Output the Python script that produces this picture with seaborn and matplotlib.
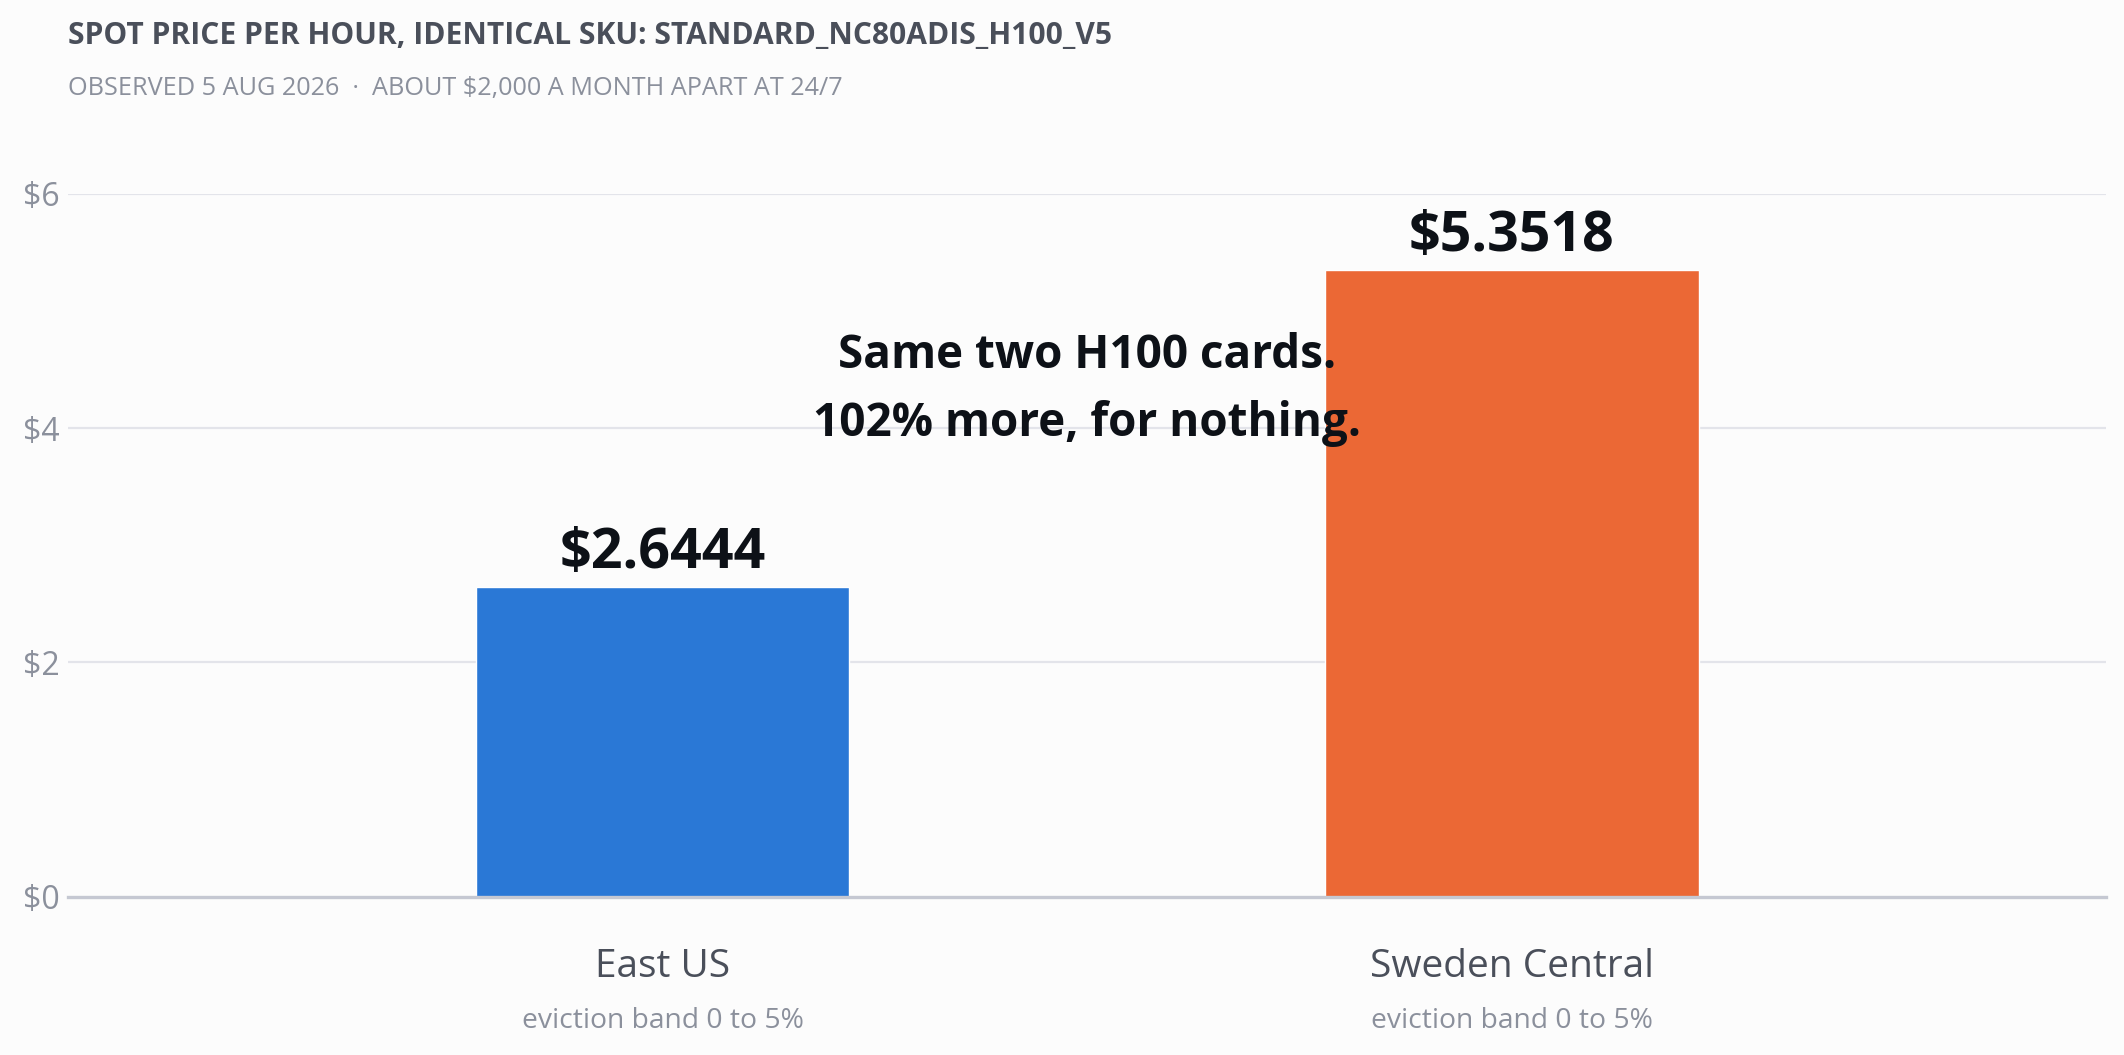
import pandas as pd
import seaborn as sns
import matplotlib.pyplot as plt
from matplotlib.transforms import blended_transform_factory

regions = ["East US", "Sweden Central"]
prices = [2.6444, 5.3518]
bands = ["eviction band 0 to 5%", "eviction band 0 to 5%"]
bar_colors = ["#2a78d6", "#eb6835"]
yticks = [0, 2, 4, 6]

title = "SPOT PRICE PER HOUR, IDENTICAL SKU: STANDARD_NC80ADIS_H100_V5"
subtitle = "OBSERVED 5 AUG 2026  \u00b7  ABOUT $2,000 A MONTH APART AT 24/7"
note = ["Same two H100 cards.", "102% more, for nothing."]

BG = "#fcfcfc"
INK = "#0d1117"
DARK = "#4a4f5a"
MUTE = "#8b909c"

df = pd.DataFrame({"region": regions, "price": prices})

sns.set_theme(style="white")
plt.rcParams["font.family"] = ["Open Sans", "DejaVu Sans"]

fig = plt.figure(figsize=(21.24, 10.55), dpi=100, facecolor=BG)
ax = fig.add_axes([0.032, 0.150, 0.9597, 0.6664])
ax.set_facecolor(BG)

sns.barplot(data=df, x="region", y="price", hue="region", palette=bar_colors,
            width=0.44, saturation=1, legend=False, ax=ax, zorder=3)

ax.set_ylim(0, 6)
ax.set_xlim(-0.70, 1.70)
ax.set_yticks(yticks)
ax.set_yticklabels([f"${v}" for v in yticks], fontsize=23, color=MUTE)
ax.tick_params(axis="y", length=0, pad=6)
ax.tick_params(axis="x", length=0)
ax.set_xticks(range(len(regions)))
ax.set_xticklabels([""] * len(regions))
ax.set_xlabel("")
ax.set_ylabel("")
for v in yticks[1:]:
    ax.axhline(v, color="#e3e4ea", lw=1.6, zorder=1)
for s in ["top", "right", "left"]:
    ax.spines[s].set_visible(False)
ax.spines["bottom"].set_color("#c5c8d2")
ax.spines["bottom"].set_linewidth(2.4)
ax.spines["bottom"].set_zorder(4)

# value labels on bars
for i, p in enumerate(prices):
    ax.annotate(f"${p:.4f}", xy=(i, p), xytext=(0, 19), textcoords="offset pixels",
                ha="center", va="baseline", fontsize=40, fontweight="bold", color=INK)

# region names and sub-labels under the axis
tr = blended_transform_factory(ax.transData, ax.transAxes)
for i, (r, b) in enumerate(zip(regions, bands)):
    ax.annotate(r, xy=(i, 0), xycoords=tr, xytext=(0, -70), textcoords="offset pixels",
                ha="center", va="center", fontsize=28, color=DARK)
    ax.annotate(b, xy=(i, 0), xycoords=tr, xytext=(0, -124), textcoords="offset pixels",
                ha="center", va="center", fontsize=20.3, color=MUTE)

# callout in the middle
ax.text(0.5, 4.515, note[0], ha="center", va="baseline", fontsize=33,
        fontweight="bold", color=INK, zorder=5)
ax.text(0.5, 3.934, note[1], ha="center", va="baseline", fontsize=33,
        fontweight="bold", color=INK, zorder=5)

fig.text(0.032, 0.966, title, ha="left", va="center", fontsize=21.6,
         fontweight="bold", color=DARK)
fig.text(0.032, 0.916, subtitle, ha="left", va="center", fontsize=18.2, color=MUTE)

fig.savefig("out.png", dpi=100, facecolor=BG)
